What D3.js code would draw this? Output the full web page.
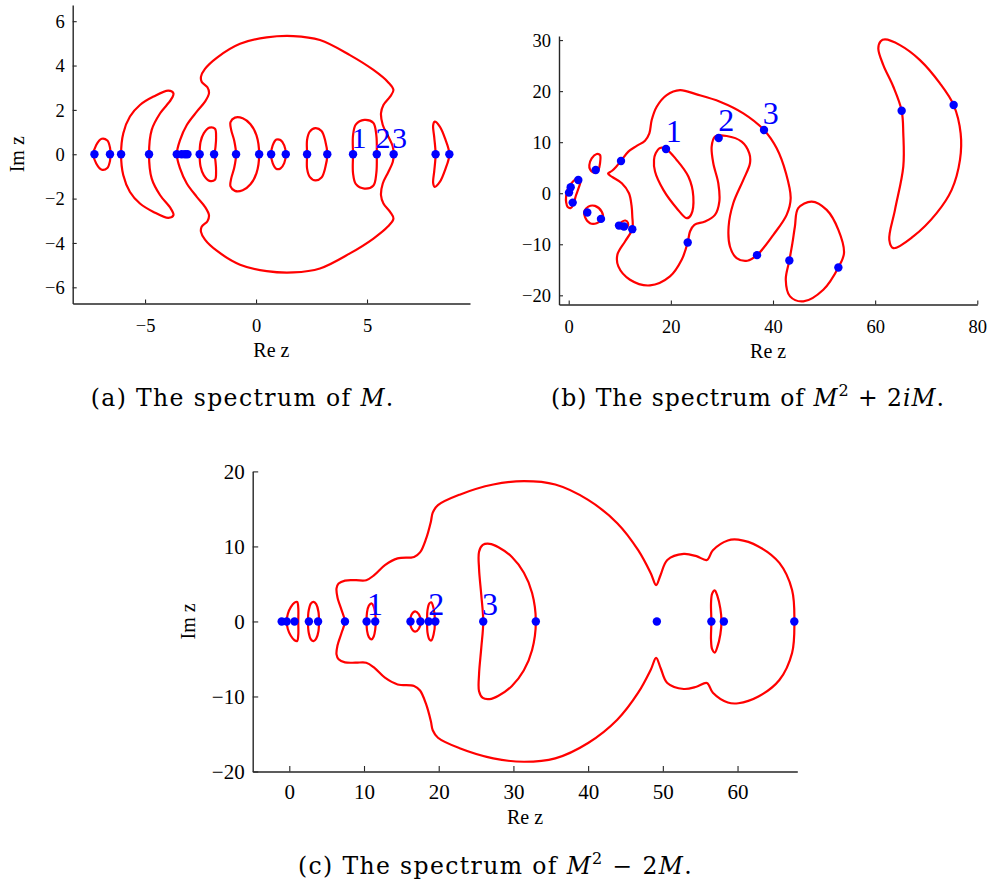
<!DOCTYPE html>
<html>
<head>
<meta charset="utf-8">
<script src="https://cdn.jsdelivr.net/npm/d3@7"></script>
<style>
  body { margin: 0; background: #fff; }
  svg { display: block; }
</style>
</head>
<body>
<svg id="fig" width="990" height="883"></svg>
<script>
// ---- panel (a): spectrum of M ----
const eigA = [-7.28, -6.58, -6.08, -4.82, -3.57, -3.35, -3.2, -3.09, -2.54, -1.89, -0.90,
  0.14, 0.68, 1.34, 2.30, 3.21, 4.37, 5.44, 6.20, 8.09, 8.71]
const loopsA = [
  [[-7.32,0],[-7.2,0.42],[-6.95,0.7],[-6.7,0.62],[-6.58,0.3],[-6.56,0],[-6.58,-0.3],[-6.7,-0.62],[-6.95,-0.7],[-7.2,-0.42]],
  [[-6.08,0],[-5.98,0.95],[-5.68,1.70],[-5.23,2.22],[-4.62,2.6],[-3.95,2.87],[-3.72,2.75],[-3.84,2.45],[-4.32,1.85],[-4.70,1.10],
   [-4.82,0],[-4.70,-1.10],[-4.32,-1.85],[-3.84,-2.45],[-3.72,-2.75],[-3.95,-2.87],[-4.62,-2.6],[-5.23,-2.22],[-5.68,-1.70],[-5.98,-0.95]],
  [[-3.57,0],[-3.42,0.65],[-3.12,1.32],[-2.67,1.92],[-2.30,2.37],[-2.12,2.75],[-2.19,3.02],[-2.45,3.27],[-2.48,3.5],[-2.3,3.85],
   [-1.77,4.35],[-0.72,4.98],[0.48,5.27],[1.68,5.33],[2.88,5.15],[4.23,4.47],[5.29,3.8],[5.95,3.25],[6.19,2.9],[6.04,2.6],
   [5.74,2.22],[5.63,1.85],[5.71,1.32],[5.96,0.8],[6.16,0.35],[6.20,0],
   [6.16,-0.35],[5.96,-0.8],[5.71,-1.32],[5.63,-1.85],[5.74,-2.22],[6.04,-2.6],[6.19,-2.9],[5.95,-3.25],[5.29,-3.8],[4.23,-4.47],
   [2.88,-5.15],[1.68,-5.33],[0.48,-5.27],[-0.72,-4.98],[-1.77,-4.35],[-2.3,-3.85],[-2.48,-3.5],[-2.45,-3.27],[-2.19,-3.02],
   [-2.12,-2.75],[-2.30,-2.37],[-2.67,-1.92],[-3.12,-1.32],[-3.42,-0.65]],
  [[-2.54,0],[-2.5,0.55],[-2.35,0.95],[-2.1,1.2],[-1.85,1.15],[-1.80,0.75],[-1.83,0.3],[-1.87,0],
   [-1.83,-0.3],[-1.80,-0.75],[-1.85,-1.15],[-2.1,-1.2],[-2.35,-0.95],[-2.5,-0.55]],
  [[-0.90,0],[-0.98,0.6],[-1.12,1.1],[-1.15,1.45],[-0.95,1.65],[-0.6,1.62],[-0.25,1.35],[0.02,0.85],[0.14,0],
   [0.02,-0.85],[-0.25,-1.35],[-0.6,-1.62],[-0.95,-1.65],[-1.15,-1.45],[-1.12,-1.1],[-0.98,-0.6]],
  [[0.68,0],[0.75,0.4],[0.92,0.66],[1.1,0.64],[1.27,0.4],[1.34,0],[1.27,-0.4],[1.1,-0.64],[0.92,-0.66],[0.75,-0.4]],
  [[2.30,0],[2.30,0.65],[2.42,1.02],[2.68,1.18],[2.95,1.05],[3.12,0.6],[3.21,0],
   [3.12,-0.6],[2.95,-1.05],[2.68,-1.18],[2.42,-1.02],[2.30,-0.65]],
  [[4.37,0],[4.37,0.85],[4.5,1.35],[4.88,1.55],[5.28,1.42],[5.42,0.85],[5.44,0],
   [5.42,-0.85],[5.28,-1.42],[4.88,-1.55],[4.5,-1.35],[4.37,-0.85]],
  [[8.09,0],[8.03,0.75],[7.98,1.3],[8.05,1.47],[8.28,1.25],[8.52,0.7],[8.71,0],
   [8.52,-0.7],[8.28,-1.25],[8.05,-1.47],[7.98,-1.3],[8.03,-0.75]]
]
const labelsA = [['1', 4.3, 0.27], ['2', 5.38, 0.27], ['3', 6.13, 0.27]]
const xTicksA = [-5, 0, 5]
const yTicksA = [-6, -4, -2, 0, 2, 4, 6]

// ---- panel (b): spectrum of M^2 + 2iM ----
const eigB = [[0.06,0.12],[0.39,1.17],[1.88,2.6],[0.78,-1.84],[5.29,4.56],[3.64,-3.79],[6.32,-5.03],[10.24,6.32],
  [9.85,-6.34],[10.83,-6.53],[12.45,-7.04],[19.05,8.67],[23.3,-9.65],[29.36,10.82],[38.24,12.39],[36.87,-12.13],
  [43.2,-13.17],[52.8,-14.54],[65.19,16.17],[75.37,17.27]]
const loopsB = [
  [[-0.5,-0.5],[-0.2,0.8],[0.5,1.9],[1.3,2.7],[2.0,3.0],[2.35,2.5],[2.0,1.2],[1.4,-0.5],[0.9,-2.2],[0.4,-2.9],[-0.2,-2.7],[-0.5,-1.8]],
  [[4.04,5.53],[4.5,6.84],[5.48,7.69],[6.13,7.49],[6.13,5.87],[5.8,4.56],[4.95,4.03],[4.17,4.69]],
  [[3.05,-3.6],[3.84,-2.62],[5.15,-2.48],[6.46,-3.6],[6.66,-4.89],[5.48,-5.87],[4.17,-5.87],[3.19,-4.69]],
  [[9.8,-6.4],[10.4,-5.6],[11.1,-5.35],[11.6,-5.8],[11.5,-6.6],[10.8,-6.9],[10.1,-6.8]],
  [[7.7,3.85],[8.5,4.4],[9.3,5.2],[10.24,6.32],[11.68,8.15],[13.31,9.26],[14.94,10.3],[15.79,11.73],[16.25,14.34],
   [17.23,16.95],[19.18,19.23],[21.79,20.21],[25.06,19.36],[29.62,17.93],[34.19,15.65],[38.24,12.39],[40.72,8.8],
   [42.54,3.91],[43.46,-0.98],[42.67,-4.24],[40.07,-8.15],[36.87,-12.13],[34.98,-13.23],[32.88,-12.71],[31.57,-10.43],
   [31.31,-6.52],[32.22,-1.96],[34.19,2.61],[35.49,5.87],[35.36,7.82],[33.86,10.1],[30.93,11.21],[28.64,11.08],
   [27.99,9.13],[28.31,5.87],[29.29,1.96],[29.49,-1.63],[28.64,-4.24],[26.68,-5.54],[24.6,-6.19],[23.75,-7.5],
   [23.3,-9.65],[22.12,-13.04],[19.83,-16.3],[15.92,-18.06],[12.0,-16.95],[9.72,-14.34],[9.53,-12.06],[11.03,-9.45],
   [12.45,-7.04],[12.45,-4.5],[12.3,-2.4],[11.8,0],[10.4,1.96],[8.5,3.2]],
  [[17.03,7.82],[17.88,8.87],[19.05,8.67],[21.14,6.52],[23.43,3.26],[24.4,-0.65],[23.95,-4.24],[23.1,-4.89],
   [21.14,-2.93],[18.53,0.65],[16.9,4.24],[16.7,6.52]],
  [[44.29,-6.52],[44.94,-2.93],[47.57,-1.63],[50.51,-3.26],[52.8,-7.17],[53.9,-11.73],[52.8,-14.54],[49.85,-18.9],
   [45.94,-21.19],[43.33,-20.21],[42.5,-16.95],[43.2,-13.17],[43.8,-9.78]],
  [[61.93,30.12],[64.86,29.01],[68.78,26.08],[72.69,21.51],[75.37,17.27],[76.74,11.73],[76.61,6.52],[74.98,0.65],
   [72.04,-3.91],[67.47,-8.47],[63.56,-10.76],[62.77,-9.13],[63.88,-3.26],[65.51,5.22],[65.51,11.73],[65.19,16.17],
   [63.56,20.86],[61.6,25.1],[60.62,28.36],[61.08,29.79]]
]
const labelsB = [['1', 19.0, 10.1], ['2', 29.3, 12.25], ['3', 38.0, 13.55]]
const xTicksB = [0, 20, 40, 60, 80]
const yTicksB = [-20, -10, 0, 10, 20, 30]

// ---- panel (c): spectrum of M^2 - 2M ----
const eigC = [-1.02, -0.35, 0.7, 2.62, 3.85, 7.45, 10.35, 11.5, 16.22, 17.55, 18.65, 19.55, 25.96, 33.0,
  49.2, 56.5, 58.17, 67.6]
const loopsC = [
  [[-0.35,0],[-0.2,1.0],[0.2,1.9],[0.7,2.5],[1.05,2.6],[1.2,1.8],[1.2,0],[1.2,-1.8],[1.05,-2.6],[0.7,-2.5],[0.2,-1.9],[-0.2,-1.0]],
  [[2.5,0],[2.6,1.5],[2.9,2.4],[3.25,2.62],[3.6,2.3],[3.9,1.3],[3.97,0],[3.9,-1.3],[3.6,-2.3],[3.25,-2.62],[2.9,-2.4],[2.6,-1.5]],
  [[7.44,0],[7.0,1.5],[6.45,3.2],[6.32,4.4],[6.6,5.05],[7.45,5.45],[8.9,5.5],[10.3,5.5],[11.4,6.2],[12.8,7.5],[14.5,8.4],
   [16.7,8.6],[17.5,9.2],[18.3,11.0],[18.95,13.3],[19.2,14.5],[19.9,15.5],[22.8,16.9],[27.3,18.25],[31.4,18.7],
   [35.6,18.25],[40.0,16.2],[43.9,13.1],[46.7,9.5],[48.4,6.4],[49.1,4.85],[49.7,6.2],[50.6,8.2],[52.8,9.0],[54.5,8.7],
   [55.9,8.2],[56.7,9.5],[58.7,10.8],[60.1,10.9],[62.8,10.0],[65.6,7.8],[67.3,4.2],[67.61,0],
   [67.3,-4.2],[65.6,-7.8],[62.8,-10.0],[60.1,-10.9],[58.7,-10.8],[56.7,-9.5],[55.9,-8.2],[54.5,-8.7],[52.8,-9.0],
   [50.6,-8.2],[49.7,-6.2],[49.1,-4.85],[48.4,-6.4],[46.7,-9.5],[43.9,-13.1],[40.0,-16.2],[35.6,-18.25],[31.4,-18.7],
   [27.3,-18.25],[22.8,-16.9],[19.9,-15.5],[19.2,-14.5],[18.95,-13.3],[18.3,-11.0],[17.5,-9.2],[16.7,-8.6],[14.5,-8.4],
   [12.8,-7.5],[11.4,-6.2],[10.3,-5.5],[8.9,-5.5],[7.45,-5.45],[6.6,-5.05],[6.32,-4.4],[6.45,-3.2],[7.0,-1.5]],
  [[10.35,0],[10.4,1.2],[10.65,2.1],[11.0,2.4],[11.3,2.0],[11.5,1.1],[11.56,0],[11.5,-1.1],[11.3,-2.0],[11.0,-2.4],[10.65,-2.1],[10.4,-1.2]],
  [[16.18,0],[16.35,0.9],[16.85,1.35],[17.35,0.95],[17.6,0],[17.35,-0.95],[16.85,-1.35],[16.35,-0.9]],
  [[18.45,0],[18.5,1.5],[18.75,2.4],[19.0,2.55],[19.3,1.8],[19.5,0],[19.3,-1.8],[19.0,-2.55],[18.75,-2.4],[18.5,-1.5]],
  [[25.96,0],[25.7,3.5],[25.4,7.0],[25.4,9.3],[25.9,10.2],[26.8,10.35],[28.0,9.9],[29.8,8.6],[31.4,6.5],[32.5,3.8],[33.0,0],
   [32.5,-3.8],[31.4,-6.5],[29.8,-8.6],[28.0,-9.9],[26.8,-10.35],[25.9,-10.2],[25.4,-9.3],[25.4,-7.0],[25.7,-3.5]],
  [[56.5,0],[56.45,2.4],[56.6,3.7],[56.95,4.15],[57.3,3.4],[57.7,1.7],[57.85,0],[57.7,-1.7],[57.3,-3.4],[56.95,-4.15],[56.6,-3.7],[56.45,-2.4]]
]
const labelsC = [['1', 10.4, 0.8], ['2', 18.6, 0.8], ['3', 25.8, 0.8]]
const xTicksC = [0, 10, 20, 30, 40, 50, 60]
const yTicksC = [-20, -10, 0, 10, 20]

const serif = '"Liberation Serif", "Times New Roman", serif'
const capFont = '"DejaVu Serif", serif'
const red = '#ff0000'
const blue = '#0000ff'
const svg = d3.select('#fig')

function draw_panel(cfg) {
  let x = d3.scaleLinear().domain(cfg.xDom).range(cfg.xRange)
  let y = d3.scaleLinear().domain(cfg.yDom).range(cfg.yRange)
  let g = svg.append('g')

  let line = d3.line()
    .x(d => x(d[0]))
    .y(d => y(d[1]))
    .curve(d3.curveCatmullRomClosed.alpha(0.5))

  // contours
  g.selectAll('path.loop')
    .data(cfg.loops)
    .join('path')
    .attr('class', 'loop')
    .attr('d', line)
    .style('fill', 'none')
    .style('stroke', red)
    .style('stroke-width', 2.2)

  // eigenvalues
  g.selectAll('circle')
    .data(cfg.eig)
    .join('circle')
    .attr('cx', d => x(d[0]))
    .attr('cy', d => y(d[1]))
    .attr('r', 4.2)
    .style('fill', blue)

  // numbered markers
  g.selectAll('text.num')
    .data(cfg.labels)
    .join('text')
    .attr('class', 'num')
    .attr('x', d => x(d[1]))
    .attr('y', d => y(d[2]))
    .text(d => d[0])
    .style('font-family', serif)
    .style('font-size', cfg.numFont + 'px')
    .style('fill', blue)

  // axes, ticks pointing inward
  let xAxis = g.append('g')
    .attr('transform', `translate(0,${cfg.yRange[0]})`)
    .call(d3.axisBottom(x).tickValues(cfg.xTicks).tickSizeInner(-cfg.tick).tickSizeOuter(0))
  let yAxis = g.append('g')
    .attr('transform', `translate(${cfg.xRange[0]},0)`)
    .call(d3.axisLeft(y).tickValues(cfg.yTicks).tickSizeInner(-cfg.tick).tickSizeOuter(0).tickPadding(8))

  for (let a of [xAxis, yAxis]) {
    a.select('.domain').style('stroke', '#262626').style('stroke-width', 1.4)
    a.selectAll('.tick line').style('stroke', '#262626').style('stroke-width', 1.1)
    a.selectAll('.tick text')
      .style('font-family', serif)
      .style('font-size', cfg.tickFont + 'px')
      .style('fill', '#000')
  }
  xAxis.selectAll('.tick text').attr('y', cfg.xLabOff).attr('dy', null)
  yAxis.selectAll('.tick text').attr('dy', '0.33em')

  // axis titles
  g.append('text')
    .attr('x', (cfg.xRange[0] + cfg.xRange[1]) / 2)
    .attr('y', cfg.reY)
    .attr('text-anchor', 'middle')
    .style('font-family', serif)
    .style('font-size', '20px')
    .text('Re z')
  if (cfg.imX != null) {
    let cy = (cfg.yRange[0] + cfg.yRange[1]) / 2
    g.append('text')
      .attr('transform', `translate(${cfg.imX},${cy}) rotate(-90)`)
      .attr('text-anchor', 'middle')
      .style('font-family', serif)
      .style('font-size', '20px')
      .text('Im z')
  }
}

draw_panel({
  eig: eigA.map(v => [v, 0]), loops: loopsA, labels: labelsA,
  xTicks: xTicksA, yTicks: yTicksA,
  xDom: [-8.26, 9.64], xRange: [72.7, 470],
  yDom: [-6.73, 6.73], yRange: [303.5, 5],
  tick: 4, tickFont: 18.5, numFont: 30, xLabOff: 28, reY: 357, imX: 24
})

draw_panel({
  eig: eigB, loops: loopsB, labels: labelsB,
  xTicks: xTicksB, yTicks: yTicksB,
  xDom: [-1.9, 80], xRange: [559, 977.3],
  yDom: [-21.8, 30.8], yRange: [304.5, 36],
  tick: 4, tickFont: 18.5, numFont: 32, xLabOff: 28, reY: 358, imX: null
})

draw_panel({
  eig: eigC.map(v => [v, 0]), loops: loopsC, labels: labelsC,
  xTicks: xTicksC, yTicks: yTicksC,
  xDom: [-4.9, 68.0], xRange: [252.7, 797.3],
  yDom: [-20, 20], yRange: [771.5, 471.4],
  tick: 5.5, tickFont: 21, numFont: 32, xLabOff: 27.5, reY: 823.5, imX: 195
})

// captions
const captions = [
  { x: 90.7, y: 405.5, w: 304, parts: [['(a) The spectrum of ', 'normal'], ['M', 'italic'], ['.', 'normal']] },
  { x: 551, y: 405.5, w: 394, parts: [['(b) The spectrum of ', 'normal'], ['M', 'italic'], ['2', 'sup'],
      [' + 2', 'normal'], ['iM', 'italic'], ['.', 'normal']] },
  { x: 298, y: 874, w: 395, parts: [['(c) The spectrum of ', 'normal'], ['M', 'italic'], ['2', 'sup'],
      [' \u2212 2', 'normal'], ['M', 'italic'], ['.', 'normal']] }
]

for (let c of captions) {
  let t = svg.append('text')
    .attr('x', c.x)
    .attr('y', c.y)
    .style('font-family', capFont)
    .style('font-size', '23.5px')
    .style('white-space', 'pre')
  let lift = 0
  for (let [s, kind] of c.parts) {
    let sp = t.append('tspan').text(s)
    if (kind == 'italic') sp.style('font-style', 'italic')
    if (kind == 'sup') {
      sp.style('font-size', '16px').attr('dy', -10)
      lift = 10
    } else if (lift) {
      sp.attr('dy', lift)
      lift = 0
    }
  }
  // adjust spacing to the caption width of the original
  let n = t.text().length
  let w = t.node().getComputedTextLength()
  t.style('letter-spacing', ((c.w - w) / n) + 'px')
}
</script>
</body>
</html>
